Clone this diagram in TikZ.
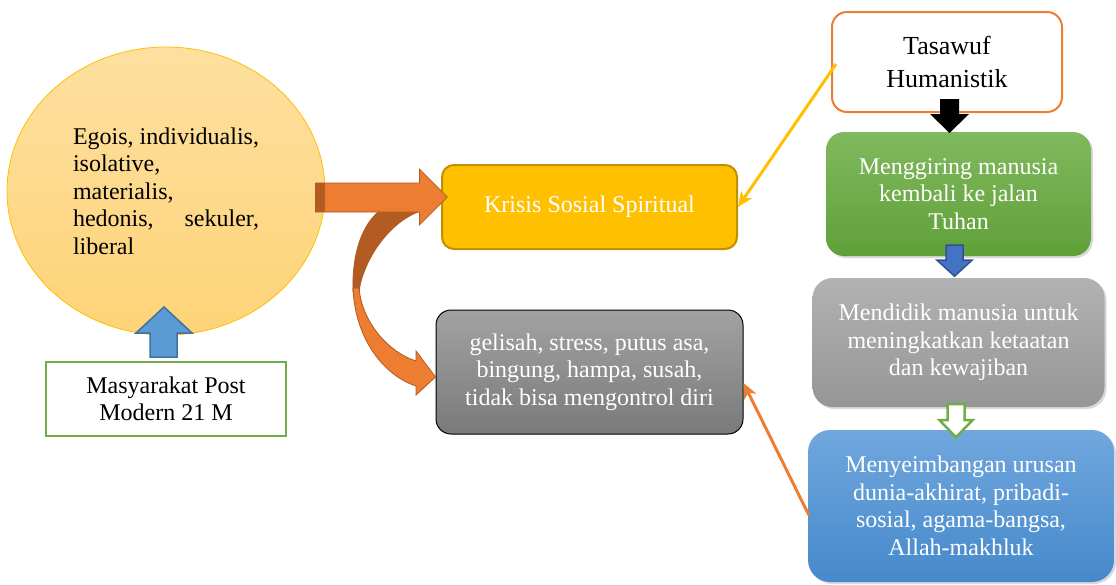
\documentclass[tikz,border=0pt]{standalone}
\usepackage{fontspec}
\setmainfont{Liberation Serif}
\usepackage{xcolor}
\usepackage{tikz}
\usetikzlibrary{arrows.meta}
\usetikzlibrary{calc}
\usetikzlibrary{positioning}
\usetikzlibrary{shapes.geometric}
\usetikzlibrary{shadows}

\definecolor{gold}{RGB}{255,192,0}
\definecolor{golddark}{RGB}{191,144,0}
\definecolor{orangeA}{RGB}{237,125,49}
\definecolor{orangeD}{RGB}{174,90,33}
\definecolor{orangeB}{RGB}{178,92,36}
\definecolor{greenA}{RGB}{112,173,71}
\definecolor{greenT}{RGB}{128,185,94}
\definecolor{greenB}{RGB}{96,160,56}
\definecolor{blueA}{RGB}{91,155,213}
\definecolor{blueD}{RGB}{65,113,156}
\definecolor{blueB}{RGB}{68,114,196}
\definecolor{blueBD}{RGB}{47,82,143}
\definecolor{blueT}{RGB}{112,167,221}
\definecolor{blueBot}{RGB}{70,137,204}
\definecolor{circtop}{RGB}{253,224,160}
\definecolor{circbot}{RGB}{254,211,120}
\definecolor{greyT}{RGB}{162,162,162}
\definecolor{greyB}{RGB}{122,122,122}
\definecolor{greyT2}{RGB}{178,178,178}
\definecolor{greyB2}{RGB}{150,150,150}

\begin{document}
\begin{tikzpicture}[x=1pt,y=-1pt,
    every node/.style={font=\fontsize{24}{27.5}\selectfont},
    main box/.style={rectangle,align=center,inner sep=0pt},
    soft box/.style={rectangle,align=center,inner sep=0pt,text=white,
        drop shadow={opacity=0.3,shadow xshift=2pt,shadow yshift=-2pt}},
    link/.style={line width=3pt,-{Stealth[length=15pt,width=13pt,inset=4pt]}}]

    \useasboundingbox (0,0) rectangle (1116,584);

    \node[ellipse, draw=gold, line width=0.8pt, top color=circtop, bottom color=circbot, minimum width=318pt, minimum height=288pt, inner sep=0pt, align=left] (circ) at (166,191) {Egois, individualis,\\isolative,\\materialis,\\\makebox[186pt][s]{hedonis, sekuler,}\\liberal};
    \node[main box, draw=greenA, line width=2pt, fill=white, minimum width=240pt, minimum height=74pt, on grid, below=208pt of circ] (post) {Masyarakat Post\\Modern 21 M};

    \node[main box, rounded corners=12pt, draw=golddark, line width=2pt, fill=gold, text=white, minimum width=295pt, minimum height=84pt] (krisis) at (589.5,207) {Krisis Sosial Spiritual};
    \node[main box, rounded corners=15pt, draw=black, line width=1pt, top color=greyT, bottom color=greyB, text=white, minimum width=307pt, minimum height=124pt, on grid, below=165pt of krisis] (gelisah) {gelisah, stress, putus asa,\\bingung, hampa, susah,\\tidak bisa mengontrol diri};

    \node[main box, rounded corners=15pt, draw=orangeA, line width=2pt, fill=white, minimum width=230pt, minimum height=100pt, font=\fontsize{26}{33}\selectfont] (tasawuf) at (947,62) {Tasawuf\\Humanistik};
    \node[soft box, rounded corners=18pt, top color=greenT, bottom color=greenB, minimum width=265pt, minimum height=124pt] (giring) at (958.5,194) {Menggiring manusia\\kembali ke jalan\\Tuhan};
    \node[soft box, rounded corners=20pt, top color=greyT2, bottom color=greyB2, minimum width=292pt, minimum height=129pt, on grid, below=148.5pt of giring] (didik) {Mendidik manusia untuk\\meningkatkan ketaatan\\dan kewajiban};
    \node[soft box, rounded corners=22pt, top color=blueT, bottom color=blueBot, minimum width=306pt, minimum height=152pt, on grid, below=163.5pt of didik, xshift=2.5pt] (imbang) {Menyeimbangan urusan\\dunia-akhirat, pribadi-\\sosial, agama-bangsa,\\Allah-makhluk};

    % block arrows
    \draw[fill=blueA, draw=blueD, line width=1.5pt, line join=miter]
    ($ (post.north) + (-16,-4) $) -- ++(27,0) -- ++(0,-24) -- ++(15,0)
    -- ++(-28,-26) -- ++(-28,26) -- ++(14,0) -- cycle;

    \draw[fill=orangeB, draw=orangeD, line width=0.8pt]
    (378,212) .. controls (358,230) and (352,262) .. (353,292)
    -- (359,292) .. controls (362,265) and (385,225) .. (418,212) -- cycle;
    \draw[fill=orangeA, draw=orangeD, line width=0.8pt]
    (353,288) .. controls (355,340) and (385,376) .. (416,386)
    -- (416,395) -- ($ (gelisah.west) + (0,5) $) -- (416,351) -- (416,361)
    .. controls (388,352) and (362,322) .. (359,288) -- cycle;

    \draw[fill=orangeA, draw=orangeD, line width=0.8pt]
    ($ (circ.east) + (-10,-8) $) -- ++(104,0) -- ++(0,-14) -- ++(28,28)
    -- ++(-28,28) -- ++(0,-13) -- ++(-104,0) -- cycle;
    \fill[orangeB] ($ (circ.east) + (-10,-8) $) rectangle ++(10,29);
    \draw[orangeD, line width=0.8pt] ($ (circ.east) + (-5,-8) $) -- ++(0,29);

    \fill[black]
    ($ (tasawuf.south) + (-7,-14) $) -- ++(19,0) -- ++(0,15) -- ++(10,0)
    -- ++(-19.5,19) -- ++(-19.5,-19) -- ++(10,0) -- cycle;

    \draw[fill=blueB, draw=blueBD, line width=1.5pt]
    ($ (giring.south) + (-12.5,-11) $) -- ++(17,0) -- ++(0,15) -- ++(9,0)
    -- ++(-17.5,16) -- ++(-17.5,-16) -- ++(9,0) -- cycle;

    \draw[fill=white, draw=greenA, line width=2.5pt]
    ($ (didik.south) + (-11,-3) $) -- ++(17,0) -- ++(0,16) -- ++(8,0)
    -- ++(-16.5,17) -- ++(-16.5,-17) -- ++(8,0) -- cycle;

    % links
    \draw[link, gold] ($ (tasawuf.west) + (5,2) $) -- (krisis.east);
    \draw[link, orangeA] ($ (imbang.west) + (1,9) $) -- ($ (gelisah.east) + (0,11) $);

\end{tikzpicture}
\end{document}
